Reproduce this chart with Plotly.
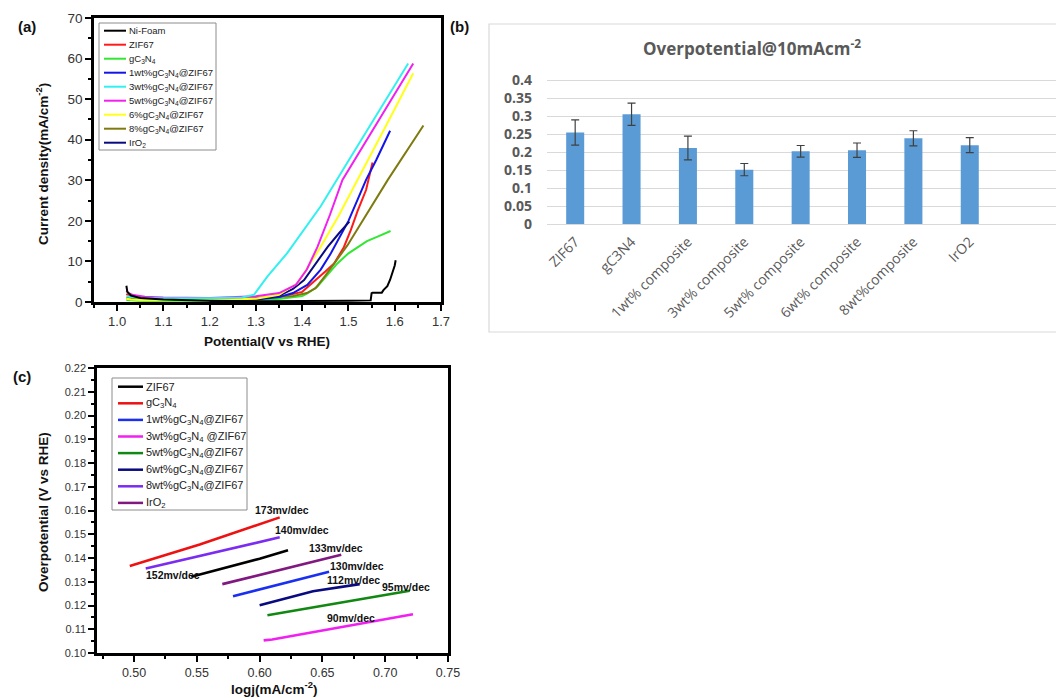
import plotly.graph_objects as go

W, H = 1056, 698


def px(x):
    return x / W


def py(y):
    return 1 - y / H


# ---------------- Panel (a): LSV curves ----------------
a_names = ["Ni-Foam", "ZIF67", "gC<sub>3</sub>N<sub>4</sub>",
           "1wt%gC<sub>3</sub>N<sub>4</sub>@ZIF67", "3wt%gC<sub>3</sub>N<sub>4</sub>@ZIF67",
           "5wt%gC<sub>3</sub>N<sub>4</sub>@ZIF67", "6%gC<sub>3</sub>N<sub>4</sub>@ZIF67",
           "8%gC<sub>3</sub>N<sub>4</sub>@ZIF67", "IrO<sub>2</sub>"]
a_colors = ["#000000", "#ff1a1a", "#33e633", "#1414e6", "#33f0f0",
            "#f020f0", "#ffff1a", "#7f7a10", "#0a0a80"]

nifoam_v = [1.020, 1.022, 1.03, 1.05, 1.10, 1.20, 1.30, 1.40, 1.50, 1.548, 1.550, 1.552,
            1.572, 1.576, 1.584, 1.590, 1.595, 1.598, 1.600, 1.602]
nifoam_j = [4.0, 2.5, 1.6, 1.0, 0.6, 0.3, 0.2, 0.2, 0.3, 0.4, 2.2, 2.3,
            2.3, 3.0, 3.9, 5.5, 7.1, 8.6, 9.0, 10.3]
zif_v = [1.02, 1.03, 1.05, 1.10, 1.20, 1.30, 1.35, 1.40, 1.426, 1.45, 1.469, 1.49, 1.505, 1.52, 1.538, 1.552]
zif_j = [2.0, 1.2, 0.9, 0.8, 0.7, 0.8, 1.2, 2.5, 5.0, 7.5, 9.5, 13.5, 17.7, 22.5, 27.6, 34.4]
gcn_v = [1.02, 1.05, 1.10, 1.20, 1.30, 1.353, 1.40, 1.411, 1.433, 1.45, 1.476, 1.50, 1.52, 1.54, 1.563, 1.58, 1.591]
gcn_j = [0.5, 0.3, 0.3, 0.3, 0.5, 0.8, 1.5, 2.1, 3.8, 6.0, 9.5, 12.0, 13.6, 15.0, 16.1, 17.0, 17.5]
w1_v = [1.20, 1.25, 1.30, 1.35, 1.38, 1.411, 1.44, 1.462, 1.50, 1.538, 1.56, 1.59]
w1_j = [0.0, 0.3, 0.6, 1.2, 2.2, 4.2, 8.0, 12.0, 20.0, 30.1, 35.0, 42.2]
w3_v = [1.02, 1.03, 1.05, 1.10, 1.20, 1.27, 1.296, 1.325, 1.368, 1.404, 1.44, 1.50, 1.56, 1.629]
w3_j = [1.5, 1.2, 1.0, 0.9, 0.9, 1.1, 1.8, 6.3, 12.1, 17.8, 23.6, 34.8, 46.0, 58.8]
w5_v = [1.02, 1.025, 1.035, 1.06, 1.10, 1.20, 1.30, 1.35, 1.386, 1.41, 1.433, 1.46, 1.487, 1.53, 1.58, 1.64]
w5_j = [2.8, 2.2, 1.7, 1.3, 1.1, 1.0, 1.4, 2.2, 4.2, 8.0, 13.6, 21.5, 30.1, 38.1, 47.5, 58.8]
w6_v = [1.02, 1.03, 1.05, 1.10, 1.20, 1.30, 1.35, 1.39, 1.415, 1.44, 1.48, 1.52, 1.58, 1.64]
w6_j = [0.8, 0.6, 0.5, 0.5, 0.5, 0.8, 1.8, 4.6, 9.0, 13.6, 21.5, 30.1, 43.2, 56.4]
w8_v = [1.02, 1.05, 1.10, 1.20, 1.30, 1.38, 1.41, 1.429, 1.45, 1.498, 1.585, 1.662]
w8_j = [1.0, 0.9, 0.9, 0.9, 1.0, 1.5, 2.2, 3.4, 6.5, 14.0, 30.1, 43.5]
iro2_v = [1.20, 1.25, 1.30, 1.35, 1.38, 1.404, 1.43, 1.455, 1.48, 1.502]
iro2_j = [0.0, 0.3, 0.6, 1.5, 3.2, 5.4, 9.5, 13.6, 17.0, 19.8]

a_x = [nifoam_v, zif_v, gcn_v, w1_v, w3_v, w5_v, w6_v, w8_v, iro2_v]
a_y = [nifoam_j, zif_j, gcn_j, w1_j, w3_j, w5_j, w6_j, w8_j, iro2_j]
a_order = [1, 2, 7, 3, 8, 6, 5, 4, 0]  # drawing order

# ---------------- Panel (b): overpotential bars ----------------
b_categories = ["ZIF67", "gC3N4", "1wt% composite", "3wt% composite", "5wt% composite",
                "6wt% composite", "8wt%composite", "IrO2"]
b_values = [0.254, 0.305, 0.211, 0.151, 0.202, 0.205, 0.238, 0.219]
b_errors = [0.035, 0.031, 0.033, 0.017, 0.016, 0.020, 0.021, 0.021]
b_tickvals = [0, 0.05, 0.1, 0.15, 0.2, 0.25, 0.3, 0.35, 0.4]
b_ticktext = ["0", "0.05", "0.1", "0.15", "0.2", "0.25", "0.3", "0.35", "0.4"]

# ---------------- Panel (c): Tafel lines ----------------
c_names = ["ZIF67", "gC<sub>3</sub>N<sub>4</sub>", "1wt%gC<sub>3</sub>N<sub>4</sub>@ZIF67",
           "3wt%gC<sub>3</sub>N<sub>4</sub> @ZIF67", "5wt%gC<sub>3</sub>N<sub>4</sub>@ZIF67",
           "6wt%gC<sub>3</sub>N<sub>4</sub>@ZIF67", "8wt%gC<sub>3</sub>N<sub>4</sub>@ZIF67", "IrO<sub>2</sub>"]
c_colors = ["#000000", "#ee1111", "#1a2ff0", "#f020f0", "#118811", "#0a0a80", "#7a2cf0", "#801880"]
t_zif_x = [0.5456, 0.600, 0.6226]
t_zif_y = [0.1321, 0.1397, 0.1433]
t_gcn_x = [0.4966, 0.5523, 0.616]
t_gcn_y = [0.1366, 0.1457, 0.1571]
t_w1_x = [0.5788, 0.6553]
t_w1_y = [0.1239, 0.1342]
t_w3_x = [0.6032, 0.610, 0.7221]
t_w3_y = [0.1053, 0.1057, 0.1163]
t_w5_x = [0.6062, 0.7195]
t_w5_y = [0.1159, 0.1262]
t_w6_x = [0.600, 0.6425, 0.6797]
t_w6_y = [0.1201, 0.1260, 0.1290]
t_w8_x = [0.5093, 0.616]
t_w8_y = [0.1356, 0.1487]
t_iro2_x = [0.5703, 0.665]
t_iro2_y = [0.1290, 0.1414]
c_x = [t_zif_x, t_gcn_x, t_w1_x, t_w3_x, t_w5_x, t_w6_x, t_w8_x, t_iro2_x]
c_y = [t_zif_y, t_gcn_y, t_w1_y, t_w3_y, t_w5_y, t_w6_y, t_w8_y, t_iro2_y]

slope_labels = ["173mv/dec", "140mv/dec", "152mv/dec", "133mv/dec", "130mv/dec",
                "112mv/dec", "95mv/dec", "90mv/dec"]
slope_label_x = [0.618, 0.634, 0.531, 0.661, 0.6775, 0.6749, 0.7168, 0.673]
slope_label_y = [0.1602, 0.1519, 0.1328, 0.1443, 0.1367, 0.1307, 0.1277, 0.1146]

FONT = "Liberation Sans, Arial, sans-serif"
XLFONT = "Open Sans, sans-serif"
GRAY = "#595959"

fig = go.Figure()

for i in a_order:
    fig.add_trace(go.Scatter(x=a_x[i], y=a_y[i], mode="lines", name=a_names[i],
                             line=dict(color=a_colors[i], width=2), xaxis="x", yaxis="y",
                             showlegend=False))

fig.add_trace(go.Bar(x=b_categories, y=b_values, marker=dict(color="#5b9bd5", line=dict(width=0)),
                     width=0.32, xaxis="x2", yaxis="y2", showlegend=False,
                     error_y=dict(type="data", array=b_errors, color="#404040", thickness=1.2, width=4)))

for i in range(len(c_names)):
    fig.add_trace(go.Scatter(x=c_x[i], y=c_y[i], mode="lines", name=c_names[i],
                             line=dict(color=c_colors[i], width=2.6), xaxis="x3", yaxis="y3",
                             showlegend=False))

box_axis = dict(showline=True, mirror=True, linecolor="black", linewidth=2.5,
                ticks="outside", tickcolor="black", tickwidth=2, ticklen=6,
                showgrid=False, zeroline=False, automargin=False)

fig.update_layout(
    width=W, height=H, margin=dict(l=0, r=0, t=0, b=0, pad=0, autoexpand=False),
    paper_bgcolor="white", plot_bgcolor="white", showlegend=False,
    font=dict(family=FONT, color="#222"),
    xaxis=dict(domain=[px(94), px(441)], range=[0.95, 1.70], anchor="y", dtick=0.1, tick0=1.0,
               tickformat=".1f", tickfont=dict(size=13, color="#333"),
               minor=dict(ticks="outside", dtick=0.05, tick0=1.0, ticklen=3.5, tickwidth=1.5,
                          tickcolor="black"), **box_axis),
    yaxis=dict(domain=[py(302), py(18)], range=[0, 70], anchor="x", dtick=10,
               tickfont=dict(size=13.5, color="#333"),
               minor=dict(ticks="outside", dtick=5, ticklen=3.5, tickwidth=1.5, tickcolor="black"),
               **box_axis),
    xaxis2=dict(domain=[px(547), 1.0], range=[-0.5, 8.53], anchor="y2", type="category",
                tickangle=-45, tickfont=dict(family=XLFONT, size=14, color=GRAY),
                showgrid=False, showline=False, zeroline=False, ticks="", ticklabelstandoff=6,
                automargin=False),
    yaxis2=dict(domain=[py(224), py(224 - 0.41 * 360)], range=[0, 0.41], anchor="x2",
                tickvals=b_tickvals, ticktext=b_ticktext,
                tickfont=dict(family=XLFONT, size=14, color=GRAY, weight="bold"),
                showgrid=True, gridcolor="#d9d9d9", gridwidth=1, zeroline=True,
                zerolinecolor="#d9d9d9", zerolinewidth=1, showline=False, ticks="",
                ticklabelstandoff=14, automargin=False),
    xaxis3=dict(domain=[px(97), px(448)], range=[0.4705, 0.75], anchor="y3", dtick=0.05, tick0=0.5,
                tickformat=".2f", tickfont=dict(size=12.5, color="#333"),
                minor=dict(ticks="outside", dtick=0.025, tick0=0.5, ticklen=3.5, tickwidth=1.5,
                           tickcolor="black"), **box_axis),
    yaxis3=dict(domain=[py(653), py(368)], range=[0.10, 0.22], anchor="x3", dtick=0.01, tick0=0.1,
                tickformat=".2f", tickfont=dict(size=11, color="#333"),
                minor=dict(ticks="outside", dtick=0.005, tick0=0.1, ticklen=3.5, tickwidth=1.5,
                           tickcolor="black"), **box_axis),
)

# Panel (b) frame
fig.add_shape(type="rect", xref="paper", yref="paper", x0=px(489), x1=px(1062), y0=py(332), y1=py(24),
              line=dict(color="#d9d9d9", width=1.2), layer="below")


def add_text(x, y, text, size, **kw):
    fig.add_annotation(xref="paper", yref="paper", x=px(x), y=py(y), text=text, showarrow=False,
                       xanchor="center", yanchor="middle",
                       font=dict(size=size, family=kw.pop("family", FONT), color=kw.pop("color", "#111")),
                       **kw)


# Panel labels
add_text(27, 26, "<b>(a)</b>", 15)
add_text(459, 26, "<b>(b)</b>", 15)
add_text(22, 376, "<b>(c)</b>", 15)

# Axis titles
add_text(267, 341, "<b>Potential(V vs RHE)</b>", 13.5)
add_text(42, 164, "<b>Current density(mA/cm<sup>-2</sup>)</b>", 13.5, textangle=-90)
add_text(274, 688, "<b>logj(mA/cm<sup>-2</sup>)</b>", 13.5)
add_text(43, 512, "<b>Overpotential (V vs RHE)</b>", 13.5, textangle=-90)

# Panel (b) title
add_text(752, 48, "<b>Overpotential@10mAcm<sup>-2</sup></b>", 17, family=XLFONT, color=GRAY)

# Panel (c) slope labels
for t, xx, yy in zip(slope_labels, slope_label_x, slope_label_y):
    fig.add_annotation(xref="x3", yref="y3", x=xx, y=yy, text="<b>" + t + "</b>", showarrow=False,
                       xanchor="center", yanchor="middle",
                       font=dict(size=10.5, family=FONT, color="#111"))


def add_legend(names, colors, box, xl0, xl1, xt, y0, dy, fsize, lw):
    fig.add_shape(type="rect", xref="paper", yref="paper", x0=px(box[0]), x1=px(box[2]),
                  y0=py(box[3]), y1=py(box[1]), line=dict(color="#8c8c8c", width=1),
                  fillcolor="white", layer="above")
    for k, (nm, col) in enumerate(zip(names, colors)):
        yy = y0 + k * dy
        fig.add_shape(type="line", xref="paper", yref="paper", x0=px(xl0), x1=px(xl1),
                      y0=py(yy), y1=py(yy), line=dict(color=col, width=lw), layer="above")
        fig.add_annotation(xref="paper", yref="paper", x=px(xt), y=py(yy), text=nm, showarrow=False,
                           xanchor="left", yanchor="middle", font=dict(size=fsize, family=FONT, color="#222"))


add_legend(a_names, a_colors, (99, 23, 216, 150), 104, 126, 127, 30.7, 14.0, 9.5, 2)
add_legend(c_names, c_colors, (112, 378, 247, 510), 118, 143, 144, 386.7, 16.6, 11, 2.5)

fig.write_html("out.html", config={"displayModeBar": False},
               post_script="document.body.style.margin='0px';document.body.style.overflow='hidden';")
